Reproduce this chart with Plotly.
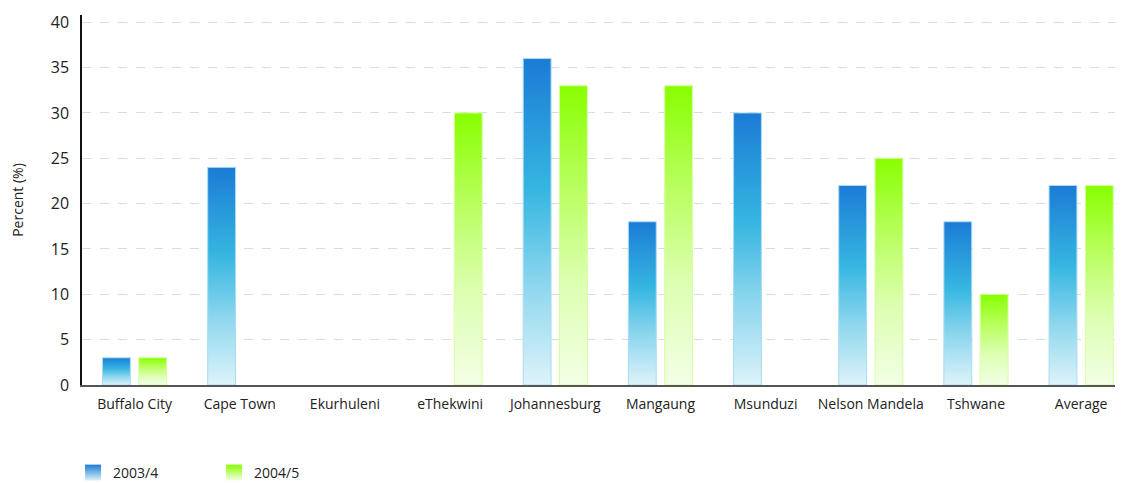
import plotly.graph_objects as go

categories = ["Buffalo City", "Cape Town", "Ekurhuleni", "eThekwini", "Johannesburg",
              "Mangaung", "Msunduzi", "Nelson Mandela", "Tshwane", "Average"]
series_names = ["2003/4", "2004/5"]
values_2003 = [3, 24, 0, 0, 36, 18, 30, 22, 18, 22]
values_2004 = [3, 0, 0, 30, 33, 33, 0, 25, 10, 22]
y_ticks = [0, 5, 10, 15, 20, 25, 30, 35, 40]

blue_scale = [[0, "#ddf3fa"], [0.3, "#8fd7ee"], [0.6, "#35b6e1"], [1, "#1b7bd6"]]
green_scale = [[0, "#f3ffe6"], [0.35, "#dcffb0"], [0.7, "#b4ff55"], [1, "#88ff00"]]

fig = go.Figure()

offsets = [(-0.305, -0.04), (0.04, 0.305)]
specs = [(series_names[0], values_2003, blue_scale, "#a9dcf2"),
         (series_names[1], values_2004, green_scale, "#d6ffa0")]

for si, (name, vals, scale, edge) in enumerate(specs):
    o1, o2 = offsets[si]
    for i, v in enumerate(vals):
        if v <= 0:
            continue
        fig.add_trace(go.Scatter(
            x=[i + o1, i + o1, i + o2, i + o2, i + o1],
            y=[0, v, v, 0, 0],
            mode="lines",
            fill="toself",
            fillgradient=dict(type="vertical", colorscale=scale),
            line=dict(width=1, color=edge),
            name=name,
            legendgroup=name,
            showlegend=False,
            hovertemplate=f"{categories[i]}<br>{name}: {v}%<extra></extra>",
        ))
    # legend swatch
    fig.add_trace(go.Scatter(
        x=[None], y=[None], mode="markers", name=name, legendgroup=name,
        marker=dict(symbol="square", size=18, color=scale[-1][1],
                    gradient=dict(type="vertical", color=scale[0][1]),
                    line=dict(width=0)),
        showlegend=True,
    ))

fig.update_layout(
    width=1115, height=475,
    margin=dict(l=74, r=0, t=7, b=98),
    plot_bgcolor="white", paper_bgcolor="white",
    font=dict(family="Open Sans", size=13, color="#222222"),
    showlegend=True,
    legend=dict(orientation="h", x=-0.0086, xref="paper", y=0.021, yref="container",
                xanchor="left", yanchor="middle",
                font=dict(size=14), entrywidth=96, entrywidthmode="pixels",
                traceorder="normal", itemsizing="trace"),
    xaxis=dict(range=[-0.5, 9.398], tickvals=list(range(len(categories))),
               ticktext=categories, showgrid=False, zeroline=False, automargin=False,
               showline=True, linecolor="#555555", linewidth=2, ticks="",
               ticklabelstandoff=5, tickfont=dict(size=14)),
    yaxis=dict(range=[0, 40.8], tickvals=y_ticks, showgrid=True, automargin=False,
               gridcolor="#d3dede", griddash="dash", gridwidth=1, zeroline=False,
               showline=True, linecolor="#111111", linewidth=1.5, ticks="",
               ticklabelstandoff=8, tickfont=dict(size=16),
               title=dict(text="Percent (%)", font=dict(size=14), standoff=27)),
)

fig.write_html("out.html")
